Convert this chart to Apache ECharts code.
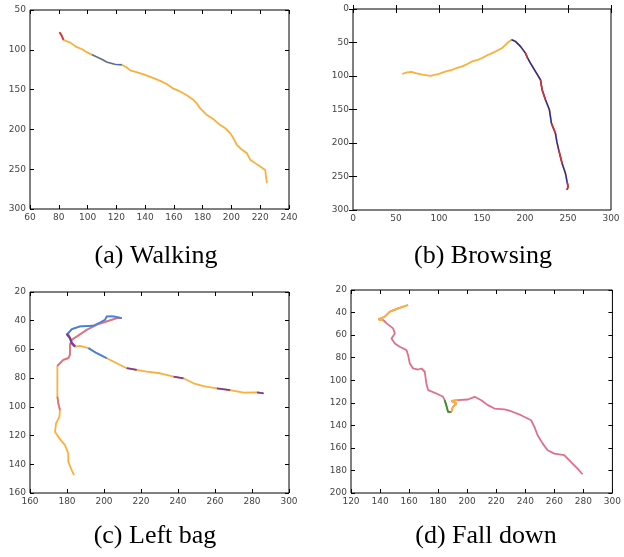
<!DOCTYPE html>
<html>
<head>
<meta charset="utf-8">
<script src="https://cdn.jsdelivr.net/npm/echarts@6/dist/echarts.min.js"></script>
<style>
  html, body { margin: 0; padding: 0; background: #fff; }
  #grafico { width: 624px; height: 557px; }
</style>
</head>
<body>
<div id="grafico"></div>
<script>
// (a) Walking
var walkPath = [[80.5,78],[82,82],[83.2,87.5],[88,91],[92.5,96.7],[96,99],[99.4,103],[103,106],[106.4,109],[110,112],[113.4,115.4],[119.2,118.3],[123.8,118.8],[127,122],[129.6,125.8],[134,128],[138.9,130.8],[145,135],[150.5,139],[155,143],[159.7,148.8],[164,152],[169,157],[173,162],[176,167.5],[178,173],[183,182],[188,188],[192.2,194.6],[196,199],[199.2,205],[201,210],[203.8,219.6],[207,225],[210.8,230],[213,238],[217,243],[220,246.7],[223.5,251],[224,259],[224.7,267.5]];
var walkBlue = [[103,106],[106.4,109],[110,112],[113.4,115.4],[119.2,118.3],[123.8,118.8]];
var walkRed = [[80.5,78],[82,82],[83.2,87.5]];

// (b) Browsing
var browsePath = [[57.3,96.7],[63,94.7],[68,94],[72.8,95.7],[80.5,98],[90.2,99.7],[99.9,96.7],[108,93],[115.4,90.7],[121,88],[127,85.7],[133,82],[138.6,78.2],[145,76],[150.2,73.2],[156,69],[161.8,65.8],[168,62],[173.4,58.3],[179.2,50.8],[184.3,45.8],[188.9,48.3],[194.7,55.8],[200.5,65.8],[203,73],[206.3,80.7],[212.1,93.2],[218,105.6],[219.9,120.6],[223.8,135.5],[228.4,150.5],[230.7,170.4],[235.4,185.4],[237,198],[239.2,210.3],[243.1,230.2],[247,245.1],[248.9,257.6],[250.1,265],[248.9,270]];
var browseDescent = [[184.3,45.8],[188.9,48.3],[194.7,55.8],[200.5,65.8],[203,73],[206.3,80.7],[212.1,93.2],[218,105.6],[219.9,120.6],[223.8,135.5],[228.4,150.5],[230.7,170.4],[235.4,185.4],[237,198],[239.2,210.3],[243.1,230.2],[247,245.1],[248.9,257.6],[250.1,265],[248.9,270]];
var browseRed1 = [[200.5,65.8],[203,73]];
var browseRed2 = [[218,105.6],[219.9,120.6],[223.8,135.5]];
var browseRed3 = [[230.7,170.4],[235.4,185.4]];
var browseRed4 = [[239.2,210.3],[243.1,230.2]];
var browseRed5 = [[248.9,257.6],[250.1,265],[248.9,270]];

// (c) Left bag
var bagPath = [[183.8,147.6],[182.6,144.2],[180.7,138.3],[180.7,132.5],[178.9,126.7],[175.9,122],[173.5,117.4],[174.1,111.5],[175.9,106.9],[176.2,102.2],[175.3,97.6],[174.8,92.9],[174.8,81.3],[174.8,71.5],[178,67.3],[180.7,66.1],[181.6,63.8],[181.6,56.8],[182.6,53.3],[185.3,51],[190.7,46.3],[196.1,42.8],[201.5,40.5],[206.9,38.2],[209.6,38.2],[205.1,37],[201.5,37],[200.6,39.3],[197.9,41.2],[194.3,43.5],[187.1,44],[182.6,45.9],[180.7,48.7],[179.8,49.1],[181.6,52.1],[182.6,55.6],[184.4,58],[187.1,57.5],[191.6,59.1],[196.1,62.6],[201.5,66.1],[206.9,69.6],[212.3,73.1],[217.7,74.3],[223.1,75.4],[230.4,76.6],[237.6,78.9],[243,80.1],[248.4,83.6],[253.8,85.5],[261,87.1],[268.2,88.3],[275.5,90.1],[282.7,89.9],[286.3,90.6]];
var bagPink = [[174.8,71.5],[178,67.3],[180.7,66.1],[181.6,63.8],[181.6,56.8],[182.6,53.3],[185.3,51],[190.7,46.3],[196.1,42.8],[201.5,40.5],[206.9,38.2],[209.6,38.2]];
var bagBlue = [[209.6,38.2],[205.1,37],[201.5,37],[200.6,39.3],[197.9,41.2],[194.3,43.5],[187.1,44],[182.6,45.9],[180.7,48.7],[179.8,49.1]];
var bagPurple = [[179.8,49.1],[181.6,52.1],[182.6,55.6],[184.4,58]];
var bagBlue2 = [[191.6,59.1],[196.1,62.6],[201.5,66.1]];
var bagRed1 = [[212.3,73.1],[217.7,74.3]];
var bagRed2 = [[237.6,78.9],[243,80.1]];
var bagRed3 = [[261,87.1],[268.2,88.3]];
var bagRed4 = [[282.7,89.9],[286.3,90.6]];
var bagPink2 = [[176.2,102.2],[175.3,97.6],[174.8,92.9]];

// (d) Fall down
var fallPath = [[159.3,33.3],[152.5,36.3],[146.8,39.2],[143.3,43.7],[138.8,46],[142.2,46.6],[144.5,49.6],[149,54],[150.2,58.5],[147.9,62.9],[150.2,67.4],[153.6,70.3],[158.2,73.3],[159.3,77.7],[160.5,85.1],[162.8,89.6],[166.2,90.5],[168.5,89.6],[170.8,92.5],[171.9,102.9],[173.1,108.8],[178.8,111.8],[183.4,114.7],[184.5,117.7],[185.6,122.1],[186.8,128],[189.1,128],[190.2,123.6],[192.5,120.7],[189.1,118.3],[193.6,117.7],[200.5,117.1],[205.1,114.7],[209.7,117.7],[214.2,122.1],[218.8,125.1],[225.7,125.9],[230.2,127.5],[237.1,131],[244,135.5],[246.3,141.4],[248.5,148.8],[252,156.2],[255.4,162.1],[260,165.1],[266.8,166.5],[271.4,172.5],[276,178.4],[279.4,183.4]];
var fallOrange = [[159.3,33.3],[152.5,36.3],[146.8,39.2],[143.3,43.7],[138.8,46],[142.2,46.6]];
var fallGreen = [[184.5,117.7],[185.6,122.1],[186.8,128],[189.1,128]];
var fallOrange2 = [[189.1,128],[190.2,123.6],[192.5,120.7],[189.1,118.3],[193.6,117.7]];

var captions = ['(a) Walking', '(b) Browsing', '(c) Left bag', '(d) Fall down'];

var ORANGE = '#fbb03b';
var BLUE = '#3b82f0';
var DARKBLUE = '#2a2aa8';
var RED = '#d83040';
var PINK = '#e0708a';
var PURPLE = '#7a3aa0';
var GREEN = '#2a9a2a';

var panels = [
    { grid: { left: 30, top: 10, width: 259, height: 199 }, x: [60, 240, 20], y: [50, 300, 50] },
    { grid: { left: 353, top: 9, width: 258, height: 201 }, x: [0, 300, 50], y: [0, 300, 50] },
    { grid: { left: 30, top: 292, width: 259, height: 201 }, x: [160, 300, 20], y: [20, 160, 20] },
    { grid: { left: 351, top: 290, width: 263, height: 203 }, x: [120, 300, 20], y: [20, 200, 20] }
];

var grids = [], xAxes = [], yAxes = [], series_grafico = [];

panels.forEach(function (p, i) {
    grids.push(Object.assign({ show: true, borderColor: '#000', borderWidth: 1, backgroundColor: '#fff' }, p.grid));
    var lbl = { fontSize: 9, color: '#444', fontFamily: 'DejaVu Sans', margin: 4 };
    ['bottom', 'top'].forEach(function (pos) {
        xAxes.push({
            type: 'value', gridIndex: i, position: pos, min: p.x[0], max: p.x[1], interval: p.x[2],
            axisLine: { show: false }, splitLine: { show: false },
            axisTick: { show: true, inside: true, length: 4, lineStyle: { color: '#000' } },
            axisLabel: pos === 'bottom' ? lbl : { show: false }
        });
    });
    ['left', 'right'].forEach(function (pos) {
        yAxes.push({
            type: 'value', gridIndex: i, position: pos, inverse: true, min: p.y[0], max: p.y[1], interval: p.y[2],
            axisLine: { show: false }, splitLine: { show: false },
            axisTick: { show: true, inside: true, length: 4, lineStyle: { color: '#000' } },
            axisLabel: pos === 'left' ? lbl : { show: false }
        });
    });
});

function addLine(panel, data, color, width) {
    series_grafico.push({
        type: 'line',
        xAxisIndex: panel * 2,
        yAxisIndex: panel * 2,
        showSymbol: false,
        silent: true,
        data: data,
        lineStyle: { color: color, width: width || 1.8 }
    });
}

addLine(0, walkPath, ORANGE);
addLine(0, walkBlue, '#4a6fb0', 1.4);
addLine(0, walkRed, RED);

addLine(1, browsePath, ORANGE);
addLine(1, browseDescent, DARKBLUE, 1.5);
addLine(1, browseRed1, RED, 1.5);
addLine(1, browseRed2, RED, 1.5);
addLine(1, browseRed3, RED, 1.5);
addLine(1, browseRed4, RED, 1.5);
addLine(1, browseRed5, RED, 1.5);

addLine(2, bagPath, ORANGE);
addLine(2, bagPink, PINK);
addLine(2, bagBlue, BLUE);
addLine(2, bagPurple, PURPLE, 2.4);
addLine(2, bagBlue2, BLUE);
addLine(2, bagRed1, PURPLE);
addLine(2, bagRed2, PURPLE);
addLine(2, bagRed3, PURPLE);
addLine(2, bagRed4, PURPLE);
addLine(2, bagPink2, PINK);

addLine(3, fallPath, PINK);
addLine(3, fallOrange, ORANGE);
addLine(3, fallGreen, GREEN);
addLine(3, fallOrange2, ORANGE);

var captionPos = [[156, 256], [483, 256], [155, 536], [486, 536]];
var graphics = captions.map(function (t, i) {
    return {
        type: 'text', x: captionPos[i][0], y: captionPos[i][1],
        style: { text: t, font: '26px "Liberation Serif"', fill: '#000', textAlign: 'center', textVerticalAlign: 'middle' }
    };
});

var myChart = echarts.init(document.getElementById('grafico'));
myChart.setOption({
    animation: false,
    backgroundColor: '#fff',
    grid: grids,
    xAxis: xAxes,
    yAxis: yAxes,
    series: series_grafico,
    graphic: graphics
});
</script>
</body>
</html>
